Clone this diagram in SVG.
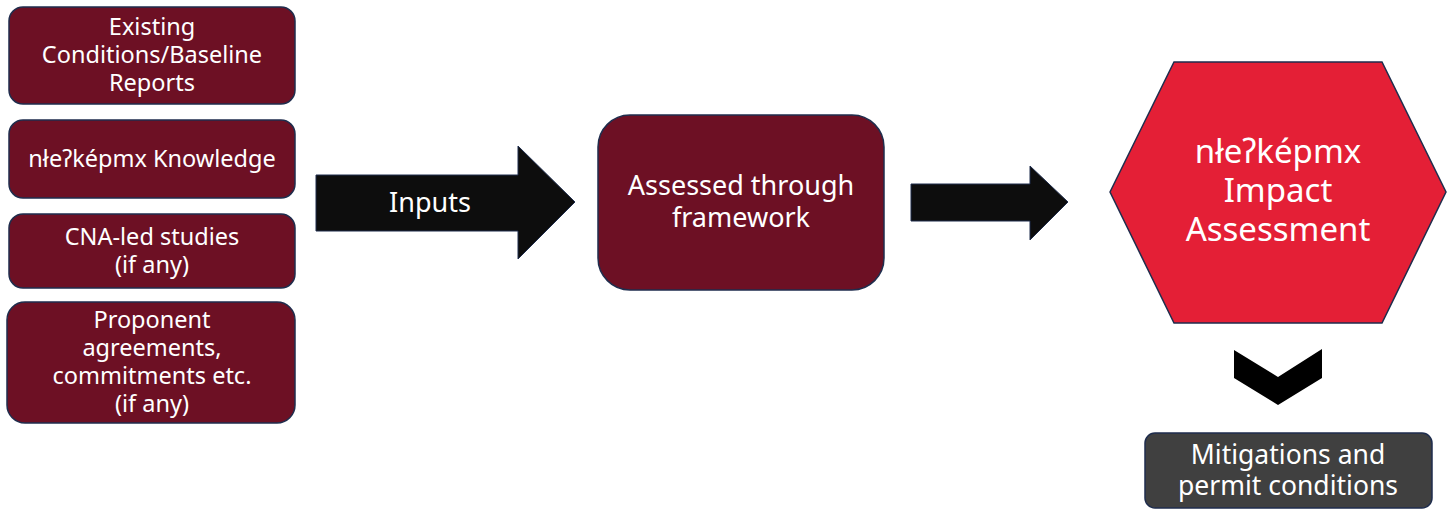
<svg xmlns="http://www.w3.org/2000/svg" width="1453" height="510" viewBox="0 0 1453 510">
<style>
.box{fill:#6d1024;stroke:#1f2d4d;stroke-width:1.5}
.t{font-family:"Noto Sans","Open Sans",sans-serif;fill:#ffffff;text-anchor:middle}
.s{font-size:23.5px}
.arrow{fill:#0d0d0d;stroke:#1f2d4d;stroke-width:1}
</style>
<rect width="1453" height="510" fill="#ffffff"/>
<g id="node-existing">
<rect class="box" x="9" y="7" width="286" height="97" rx="14"/>
<text class="t s" x="152" y="35">Existing</text>
<text class="t s" x="152" y="63">Conditions/Baseline</text>
<text class="t s" x="152" y="91">Reports</text>
</g>
<g id="node-knowledge">
<rect class="box" x="9" y="120" width="286" height="78" rx="14"/>
<text class="t s" x="152" y="167">nłeʔképmx Knowledge</text>
</g>
<g id="node-cna">
<rect class="box" x="9" y="214" width="286" height="74" rx="14"/>
<text class="t s" x="152" y="245">CNA-led studies</text>
<text class="t s" x="152" y="273">(if any)</text>
</g>
<g id="node-proponent">
<rect class="box" x="7" y="302" width="288" height="121" rx="18"/>
<text class="t s" x="152" y="328">Proponent</text>
<text class="t s" x="152" y="356">agreements,</text>
<text class="t s" x="152" y="384">commitments etc.</text>
<text class="t s" x="152" y="412">(if any)</text>
</g>
<g id="connectors">
<polygon class="arrow" points="316,175 518,175 518,146 575,202 518,259 518,231 316,231"/>
<text class="t" x="430" y="212" font-size="27">Inputs</text>
<polygon class="arrow" points="911,184 1030,184 1030,166 1068,202 1030,240 1030,221 911,221"/>
<polygon fill="#000000" points="1234,350 1278,377 1322,349 1322,378 1278,405 1234,378"/>
</g>
<g id="node-framework">
<rect class="box" x="598" y="115" width="286" height="175" rx="32"/>
<text class="t" x="741" y="195" font-size="27">Assessed through</text>
<text class="t" x="741" y="227" font-size="27">framework</text>
</g>
<g id="node-impact">
<polygon fill="#e41f36" stroke="#1f2d4d" stroke-width="1.5" points="1110,192 1174,62 1382,62 1446,192 1382,323 1174,323"/>
<text class="t" x="1278" y="163" font-size="33">nłeʔképmx</text>
<text class="t" x="1278" y="202" font-size="33">Impact</text>
<text class="t" x="1278" y="241" font-size="33">Assessment</text>
</g>
<g id="node-mitigations">
<rect fill="#404040" stroke="#1f2d4d" stroke-width="1.5" x="1145" y="433" width="287" height="75" rx="10"/>
<text class="t" x="1288" y="464" font-size="26.5">Mitigations and</text>
<text class="t" x="1288" y="495" font-size="26.5">permit conditions</text>
</g>
</svg>
